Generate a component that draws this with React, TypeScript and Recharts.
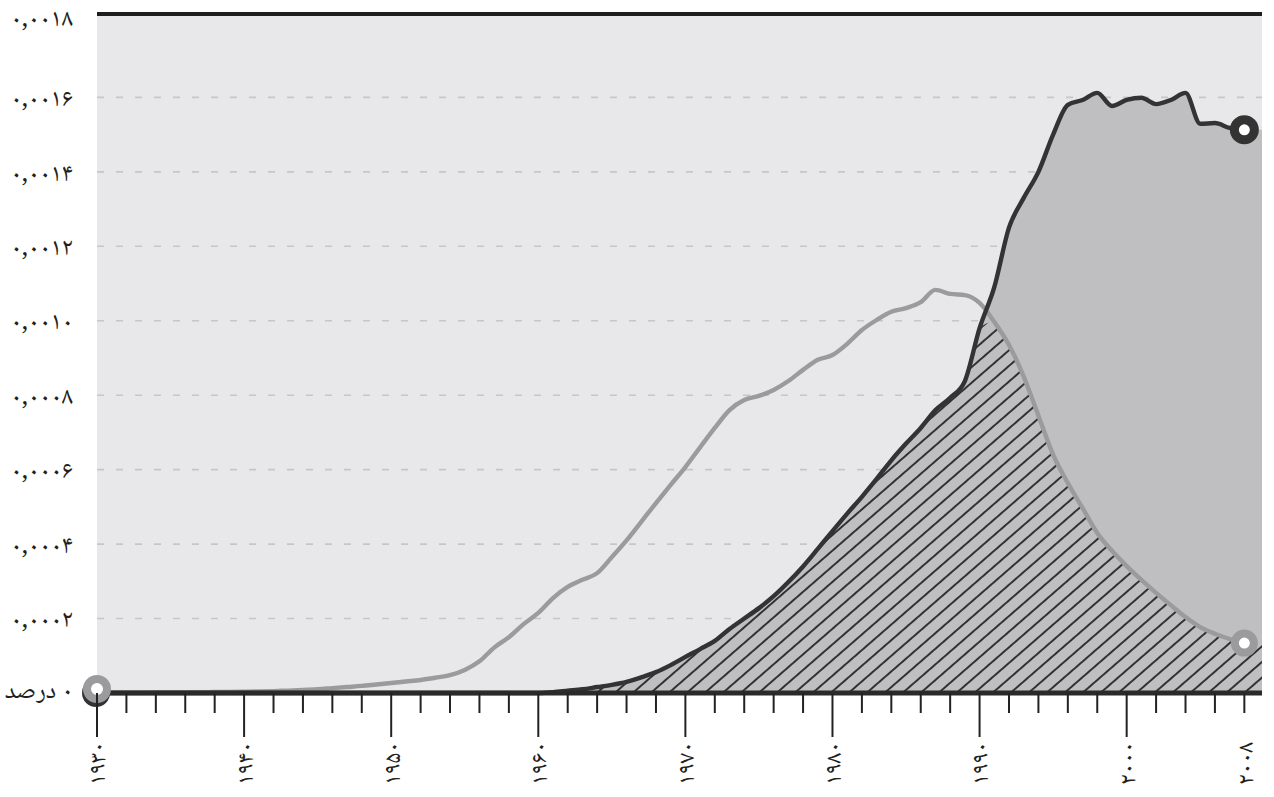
import React from 'react';
import {
  ComposedChart,
  Area,
  Line,
  XAxis,
  YAxis,
  CartesianGrid,
  ReferenceLine,
  ReferenceDot,
} from 'recharts';

// values in units of 0.0001 percent
const years = [
  1930, 1931, 1932, 1933, 1934, 1935, 1936, 1937, 1938, 1939,
  1940, 1941, 1942, 1943, 1944, 1945, 1946, 1947, 1948, 1949,
  1950, 1951, 1952, 1953, 1954, 1955, 1956, 1957, 1958, 1959,
  1960, 1961, 1962, 1963, 1964, 1965, 1966, 1967, 1968, 1969,
  1970, 1971, 1972, 1973, 1974, 1975, 1976, 1977, 1978, 1979,
  1980, 1981, 1982, 1983, 1984, 1985, 1986, 1987, 1988, 1989,
  1990, 1991, 1992, 1993, 1994, 1995, 1996, 1997, 1998, 1999,
  2000, 2001, 2002, 2003, 2004, 2005, 2006, 2007, 2008,
];

const darkSeries = [
  0, 0, 0, 0, 0, 0, 0, 0, 0, 0,
  0, 0, 0, 0, 0, 0, 0, 0, 0, 0,
  0, 0, 0, 0, 0, 0, 0, 0, 0, 0,
  0, 0.02, 0.06, 0.1, 0.16, 0.22, 0.3, 0.42, 0.56, 0.75,
  0.97, 1.18, 1.4, 1.72, 2.0, 2.28, 2.6, 2.98, 3.4, 3.87,
  4.35, 4.82, 5.27, 5.75, 6.25, 6.7, 7.12, 7.6, 7.93, 8.38,
  9.8, 10.9, 12.5, 13.3, 14.0, 15.0, 15.8, 15.93, 16.12, 15.77,
  15.93, 15.99, 15.82, 15.93, 16.12, 15.29, 15.31, 15.18, 15.13,
];

const graySeries = [
  0, 0.005, 0.008, 0.01, 0.012, 0.015, 0.018, 0.02, 0.025, 0.03,
  0.035, 0.04, 0.05, 0.065, 0.08, 0.1, 0.13, 0.16, 0.19, 0.23,
  0.27, 0.31, 0.35, 0.41, 0.48, 0.62, 0.85, 1.22, 1.5, 1.85,
  2.15, 2.55, 2.85, 3.04, 3.22, 3.65, 4.1, 4.6, 5.1, 5.59,
  6.07, 6.6, 7.12, 7.6, 7.87, 7.98, 8.14, 8.38, 8.68, 8.95,
  9.08, 9.38, 9.75, 10.02, 10.24, 10.34, 10.5, 10.83, 10.72, 10.69,
  10.48, 9.97, 9.35, 8.5, 7.45, 6.4, 5.64, 4.97, 4.3, 3.82,
  3.41, 3.04, 2.69, 2.36, 2.04, 1.77, 1.59, 1.45, 1.34,
];

const yTicks = [0, 2, 4, 6, 8, 10, 12, 14, 16, 18];
const yTickLabels = [
  'درصد\u200E ۰',
  '۰,۰۰۰۲',
  '۰,۰۰۰۴',
  '۰,۰۰۰۶',
  '۰,۰۰۰۸',
  '۰,۰۰۱۰',
  '۰,۰۰۱۲',
  '۰,۰۰۱۴',
  '۰,۰۰۱۶',
  '۰,۰۰۱۸',
];
const yMax = 18.24;

const xTicks = [
  1930, 1932, 1934, 1936, 1938, 1940, 1942, 1944, 1946, 1948,
  1950, 1952, 1954, 1956, 1958, 1960, 1962, 1964, 1966, 1968,
  1970, 1972, 1974, 1976, 1978, 1980, 1982, 1984, 1986, 1988,
  1990, 1992, 1994, 1996, 1998, 2000, 2002, 2004, 2006, 2008,
];
const majorYears = [1930, 1940, 1950, 1960, 1970, 1980, 1990, 2000];
const labelYears = [1930, 1940, 1950, 1960, 1970, 1980, 1990, 2000, 2008];
const xTickLabels = ['۱۹۳۰', '۱۹۴۰', '۱۹۵۰', '۱۹۶۰', '۱۹۷۰', '۱۹۸۰', '۱۹۹۰', '۲۰۰۰', '۲۰۰۸'];
const xMax = 2009.2;

const lastIdx = years.length - 1;
const rows: any[] = years.map((year, i) => ({
  year,
  dark: darkSeries[i],
  gray: graySeries[i],
  darkFill: darkSeries[i],
  lowFill: Math.min(darkSeries[i], graySeries[i]),
}));
// the shaded areas run on to the right edge of the plot at their final level
rows.push({
  year: xMax,
  dark: null,
  gray: null,
  darkFill: darkSeries[lastIdx],
  lowFill: Math.min(darkSeries[lastIdx], graySeries[lastIdx]),
});

const FONT = "'Noto Naskh Arabic', 'Noto Sans Arabic', 'DejaVu Sans', sans-serif";
const INK = '#231f20';
const DARK = '#333333';
const GRAY = '#9b9b9d';

const XTick = (props: any) => {
  const { x, y, payload } = props;
  const yr = payload.value;
  const major = majorYears.includes(yr);
  const li = labelYears.indexOf(yr);
  return (
    <g>
      <line x1={x} y1={y} x2={x} y2={y + (major ? 44 : 20)} stroke="#222" strokeWidth={2} />
      {li >= 0 && (
        <text
          transform={`translate(${x},${y + 49}) rotate(-90)`}
          textAnchor="end"
          dy="0.35em"
          fontSize={24}
          fill={INK}
          fontFamily={FONT}
        >
          {xTickLabels[li]}
        </text>
      )}
    </g>
  );
};

const YTick = (props: any) => {
  const { x, y, payload } = props;
  const i = yTicks.indexOf(payload.value);
  if (i < 0) return <g />;
  const shift = i === yTicks.length - 1 ? -6 : i === 0 ? -4 : 0;
  return (
    <text x={x} y={y + shift} dy="0.35em" textAnchor="end" fontSize={25} fill={INK} fontFamily={FONT}>
      {yTickLabels[i]}
    </text>
  );
};

const GridLine = (props: any) => {
  const { x1, x2, y1, y2, y, height } = props;
  if (typeof y === 'number' && typeof height === 'number') {
    if (y1 <= y + 12 || y1 >= y + height - 4) return <g />;
  }
  return <line x1={x1} x2={x2} y1={y1} y2={y2} stroke="#c6c6c8" strokeWidth={1.6} strokeDasharray="7 12" />;
};

const makeEndDot = (color: string, r: number, sw: number) => (props: any) => {
  const { cx, cy, index } = props;
  if (index !== lastIdx || cx == null || cy == null) return <g key={`d-${index}`} />;
  return <circle key={`d-${index}`} cx={cx} cy={cy} r={r} fill="#ffffff" stroke={color} strokeWidth={sw} />;
};

const StartMarker = (props: any) => {
  const { cx, cy } = props;
  return (
    <g>
      <circle cx={cx - 1} cy={cy} r={10} fill="#ffffff" stroke={DARK} strokeWidth={8} />
      <circle cx={cx} cy={cy - 4} r={10} fill="#ffffff" stroke={GRAY} strokeWidth={8} />
    </g>
  );
};

export default function App() {
  return (
    <div style={{ position: 'absolute', left: 0, top: 0, width: 1274, height: 797, background: '#ffffff' }}>
      <ComposedChart width={1274} height={797} data={rows} margin={{ top: 14, right: 12, bottom: 0, left: 0 }}>
        <defs>
          <pattern id="hatch" patternUnits="userSpaceOnUse" width="12" height="11.8" patternTransform="rotate(-41)">
            <line x1="-2" y1="5.9" x2="14" y2="5.9" stroke="#1a1a1a" strokeWidth="1.7" />
          </pattern>
        </defs>
        <CartesianGrid vertical={false} horizontal={GridLine} fill="#e8e8ea" stroke="none" />
        <XAxis
          dataKey="year"
          type="number"
          domain={[1930, xMax]}
          ticks={xTicks}
          interval={0}
          height={104}
          tickSize={0}
          tickMargin={0}
          tickLine={false}
          axisLine={{ stroke: '#2a2a2a', strokeWidth: 5 }}
          tick={XTick}
        />
        <YAxis
          type="number"
          domain={[0, yMax]}
          ticks={yTicks}
          interval={0}
          width={97}
          tickSize={0}
          tickMargin={24}
          tickLine={false}
          axisLine={false}
          tick={YTick}
        />
        <Area
          type="monotone"
          dataKey="darkFill"
          stroke="none"
          fill="#bfbfc1"
          fillOpacity={1}
          isAnimationActive={false}
          dot={false}
          activeDot={false}
        />
        <Area
          type="monotone"
          dataKey="lowFill"
          stroke="none"
          fill="url(#hatch)"
          fillOpacity={1}
          isAnimationActive={false}
          dot={false}
          activeDot={false}
        />
        <ReferenceLine y={yMax} stroke="#1e1e1e" strokeWidth={4} ifOverflow="visible" />
        <Line
          type="monotone"
          dataKey="gray"
          stroke={GRAY}
          strokeWidth={4.4}
          dot={makeEndDot(GRAY, 9.5, 8)}
          activeDot={false}
          isAnimationActive={false}
        />
        <Line
          type="monotone"
          dataKey="dark"
          stroke={DARK}
          strokeWidth={4.4}
          dot={makeEndDot(DARK, 10, 9)}
          activeDot={false}
          isAnimationActive={false}
        />
        <ReferenceDot x={years[0]} y={graySeries[0]} r={10} shape={StartMarker} ifOverflow="visible" />
      </ComposedChart>
    </div>
  );
}
